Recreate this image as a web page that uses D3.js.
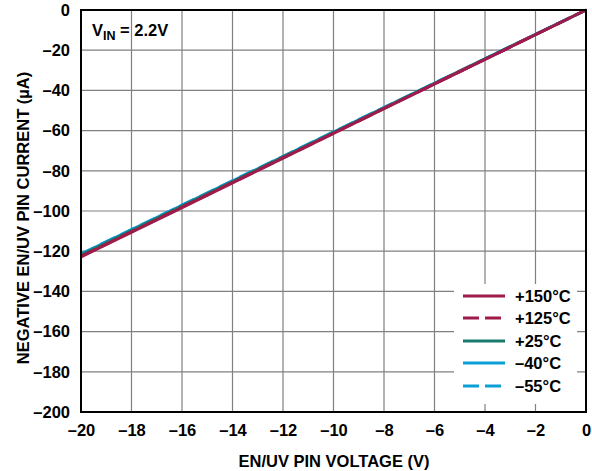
<!DOCTYPE html>
<html><head><meta charset="utf-8">
<script src="https://cdn.jsdelivr.net/npm/d3@7"></script>
<style>body{margin:0;background:#fff}svg text{font-family:"Liberation Sans",Arial,sans-serif;font-weight:bold}</style>
</head><body><svg id="c" width="592" height="471"></svg>
<script>
const voltages = [-20, -16, -12, -8, -4, 0];
const i150 = [-122.8, -98.3, -73.7, -49.1, -24.6, 0];
const i125 = [-122.6, -98.1, -73.6, -49.0, -24.5, 0];
const i25 = [-122.0, -97.6, -73.2, -48.8, -24.4, 0];
const im40 = [-121.5, -97.2, -72.9, -48.6, -24.3, 0];
const im55 = [-121.4, -97.1, -72.8, -48.5, -24.3, 0];
const xTicks = [-20, -18, -16, -14, -12, -10, -8, -6, -4, -2, 0];
const yTicks = [0, -20, -40, -60, -80, -100, -120, -140, -160, -180, -200];
const seriesNames = ["+150°C", "+125°C", "+25°C", "\u201340°C", "\u201355°C"];
const seriesColors = ["#9e1b4b", "#9e1b4b", "#1a7a6c", "#0a9fd6", "#0a9fd6"];
const seriesDash = [null, "16,6", null, null, "16,6"];
const seriesData = [i150, i125, i25, im40, im55];

const svg = d3.select("#c");
const L = 81, R = 586, T = 10, B = 412;
const x = d3.scaleLinear().domain([-20, 0]).range([L, R]);
const y = d3.scaleLinear().domain([-200, 0]).range([B, T]);
const fmt = v => v < 0 ? "\u2013" + Math.abs(v) : String(v);

// grid
svg.append("g").selectAll("line").data(xTicks.slice(1, -1)).join("line")
  .attr("x1", d => x(d)).attr("x2", d => x(d)).attr("y1", T).attr("y2", B)
  .attr("stroke", "#808080").attr("stroke-width", 1.2);
svg.append("g").selectAll("line").data(yTicks.slice(1, -1)).join("line")
  .attr("y1", d => y(d)).attr("y2", d => y(d)).attr("x1", L).attr("x2", R)
  .attr("stroke", "#808080").attr("stroke-width", 1.2);

// axes labels via d3 axes
const xa = svg.append("g").attr("transform", `translate(0,${B})`)
  .call(d3.axisBottom(x).tickValues(xTicks).tickFormat(fmt).tickSize(0).tickPadding(12));
xa.select(".domain").remove();
xa.selectAll("text").attr("font-size", 16.5).attr("fill", "#000").attr("font-family", "Liberation Sans, Arial, sans-serif").attr("font-weight", "bold");
const ya = svg.append("g").attr("transform", `translate(${L},0)`)
  .call(d3.axisLeft(y).tickValues(yTicks).tickFormat(fmt).tickSize(0).tickPadding(11));
ya.select(".domain").remove();
ya.selectAll("text").attr("font-size", 16.5).attr("fill", "#000").attr("font-family", "Liberation Sans, Arial, sans-serif").attr("font-weight", "bold");

// legend background
svg.append("rect").attr("x", 454).attr("y", 284).attr("width", 123).attr("height", 120).attr("fill", "#fff");

// lines (draw coldest first so hot on top at bottom)
const line = d3.line().x((d, i) => x(voltages[i])).y(d => y(d));
const order = [4, 3, 2, 1, 0];
order.forEach(k => {
  svg.append("path").datum(seriesData[k]).attr("d", line)
    .attr("fill", "none").attr("stroke", seriesColors[k]).attr("stroke-width", 3)
    .attr("stroke-dasharray", seriesDash[k]);
});

// frame
svg.append("rect").attr("x", L).attr("y", T).attr("width", R - L).attr("height", B - T)
  .attr("fill", "none").attr("stroke", "#000").attr("stroke-width", 2);

// legend
const ly = [296, 318, 341, 363, 386];
seriesNames.forEach((n, k) => {
  svg.append("line").attr("x1", 463).attr("x2", 505).attr("y1", ly[k]).attr("y2", ly[k])
    .attr("stroke", seriesColors[k]).attr("stroke-width", 3).attr("stroke-dasharray", seriesDash[k]);
  svg.append("text").attr("x", 515).attr("y", ly[k] + 6).attr("font-size", 16.5).text(n);
});

// VIN label
const vt = svg.append("text").attr("x", 92).attr("y", 36).attr("font-size", 16.5);
vt.append("tspan").text("V");
vt.append("tspan").attr("font-size", 12.5).attr("dy", 4).text("IN");
vt.append("tspan").attr("dy", -4).text(" = 2.2V");

// axis titles
svg.append("text").attr("x", 334).attr("y", 467).attr("text-anchor", "middle").attr("font-size", 16.5)
  .text("EN/UV PIN VOLTAGE (V)");
svg.append("text").attr("transform", `translate(28.5,218) rotate(-90)`).attr("text-anchor", "middle")
  .attr("font-size", 16.5).text("NEGATIVE EN/UV PIN CURRENT (µA)");
</script></body></html>
